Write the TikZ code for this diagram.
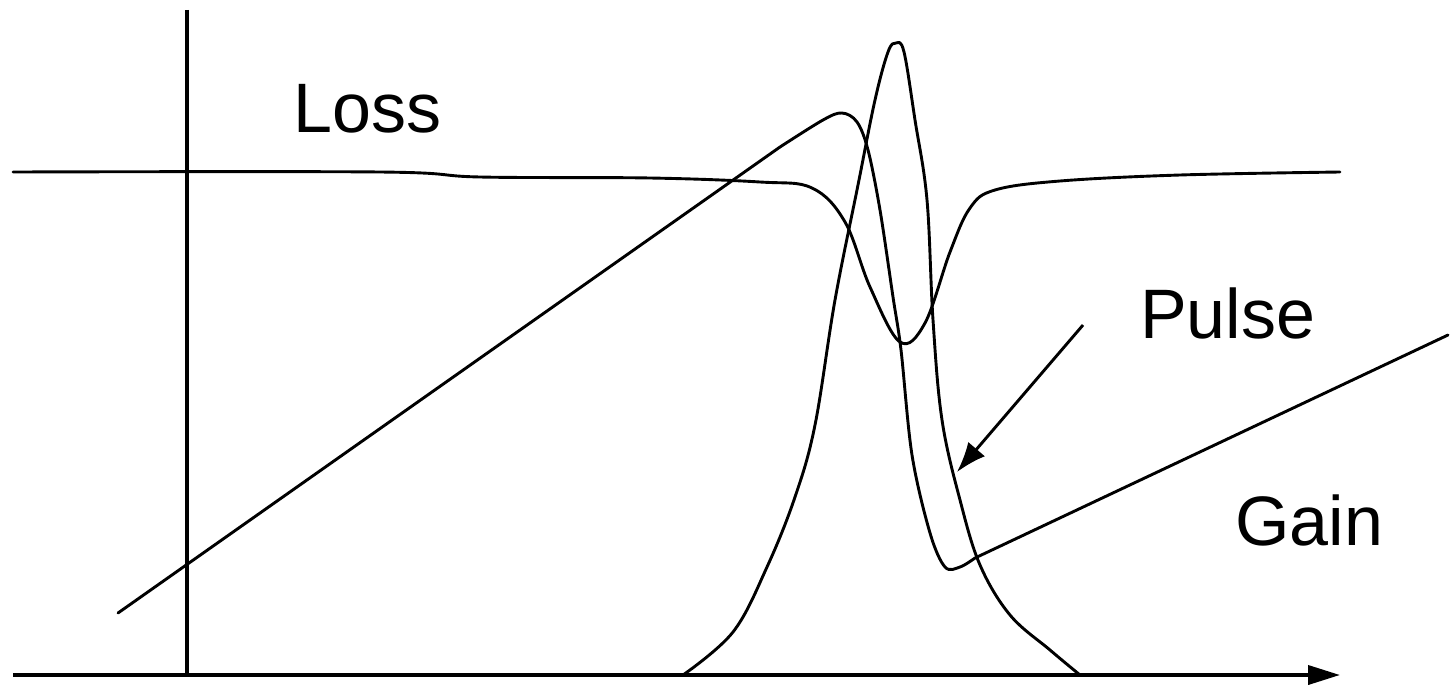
\documentclass[tikz,border=0pt]{standalone}
\usepackage{fontspec}
\setmainfont{Liberation Sans}
\usetikzlibrary{arrows.meta}
\begin{document}
\begin{tikzpicture}[x=1pt,y=-1pt,
  curve/.style={line width=2.9pt,line join=round,line cap=round},
  axis/.style={line width=3.8pt},
  lbl/.style={font=\fontsize{70}{80}\selectfont,inner sep=0pt,anchor=base west}]
\useasboundingbox (0,0) rectangle (1450,685);
% axes
\coordinate (xs) at (13,675);
\coordinate (xe) at (1340,675);
\coordinate (ys) at (187,10);
\coordinate (ye) at (187,675);
\draw[axis,-{Triangle[length=32pt,width=19pt]}] (xs) -- (xe);
\draw[axis] (ys) -- (ye);
% loss
\draw[curve] plot[smooth,tension=0.6] coordinates {(13,172) (380,172) (480,177) (650,178) (760,182) (812,188) (845,222) (870,287) (900,342) (925,323) (950,252) (970,208) (995,190) (1060,181) (1180,175) (1340,172)};
% gain
\draw[curve] (118,613) -- (780,147) plot[smooth,tension=0.55] coordinates {(780,147) (823,120) (842,113) (857,122) (868,150) (880,210) (893,297) (901,350) (912,455) (930,533) (945,567) (960,567) (975,558)} -- (1448,335);
% pulse
\draw[curve] plot[smooth,tension=0.6] coordinates {(683,675) (733,632) (767,567) (795,497) (815,425) (835,300) (858,185) (875,100) (888,52) (896,43) (904,52) (915,120) (927,200) (933,320) (942,420) (960,500) (980,565) (1010,615) (1050,650) (1080,675)};
% labels
\node[lbl] (loss) at (293,132) {Loss};
\node[lbl] (pulse) at (1140,338) {Pulse};
\node[lbl] (gain) at (1235,545) {Gain};
% arrow
\coordinate (as) at (1083,325);
\coordinate (ae) at (957,472);
\draw[curve,line cap=butt,-{Latex[length=30pt,width=22pt]}] (as) -- (ae);
\end{tikzpicture}
\end{document}
